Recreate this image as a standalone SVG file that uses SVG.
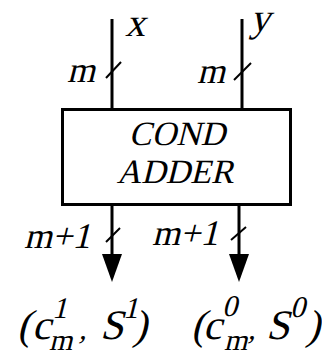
<svg xmlns="http://www.w3.org/2000/svg" width="322" height="350" viewBox="0 0 322 350">
<style>
  text { font-family: "Liberation Serif", "DejaVu Serif", serif; font-style: normal; fill: #000; }
  .wire { stroke: #000; stroke-width: 3; fill: none; }
  .tick { stroke: #000; stroke-width: 2; fill: none; }
  .box { stroke: #000; stroke-width: 3; fill: #fff; }
</style>
<defs>
  <marker id="ah" viewBox="0 0 28 20" refX="8" refY="10" markerWidth="28" markerHeight="20" markerUnits="userSpaceOnUse" orient="auto">
    <path d="M0,0 L28,10 L0,20 Z" fill="#000"/>
  </marker>
</defs>
<rect width="322" height="350" fill="#fff"/>
<g id="connectors">
  <line class="wire" x1="112" y1="19" x2="112" y2="109"/>
  <line class="wire" x1="242" y1="19" x2="242" y2="109"/>
  <line class="wire" x1="112" y1="204" x2="112" y2="262" marker-end="url(#ah)"/>
  <line class="wire" x1="239" y1="204" x2="239" y2="262" marker-end="url(#ah)"/>
  <line class="tick" x1="106" y1="78" x2="121" y2="62"/>
  <line class="tick" x1="234" y1="80" x2="251" y2="63"/>
  <line class="tick" x1="106" y1="242" x2="120" y2="228"/>
  <line class="tick" x1="231" y1="240" x2="246" y2="227"/>
</g>
<g id="cond-adder">
  <rect class="box" x="62.5" y="109.5" width="228" height="95"/>
  <text transform="translate(177,145) skewX(-14)" font-size="34" text-anchor="middle">COND</text>
  <text transform="translate(175,183) skewX(-14)" font-size="34" text-anchor="middle">ADDER</text>
</g>
<g id="label-x"><text transform="translate(125,36) skewX(-14)" font-size="40">x</text></g>
<g id="label-y"><text transform="translate(250,31) skewX(-14)" font-size="40">y</text></g>
<g id="label-m-left"><text transform="translate(67,82) skewX(-14)" font-size="36">m</text></g>
<g id="label-m-right"><text transform="translate(197,83) skewX(-14)" font-size="36">m</text></g>
<g id="label-m1-left"><text transform="translate(24,248) skewX(-14)" font-size="36">m+1</text></g>
<g id="label-m1-right"><text transform="translate(152,245) skewX(-14)" font-size="36">m+1</text></g>
<g id="out-left">
  <text transform="translate(17,339) skewX(-14)" font-size="42">(</text>
  <text transform="translate(32,339) skewX(-14)" font-size="42">c</text>
  <text transform="translate(52,318) skewX(-14)" font-size="30">1</text>
  <text transform="translate(49,350) skewX(-14)" font-size="30">m</text>
  <text transform="translate(79,339) skewX(-14)" font-size="30">,</text>
  <text transform="translate(100,339) skewX(-14)" font-size="42">S</text>
  <text transform="translate(123,318) skewX(-14)" font-size="30">1</text>
  <text transform="translate(133,339) skewX(-14)" font-size="42">)</text>
</g>
<g id="out-right">
  <text transform="translate(191,339) skewX(-14)" font-size="42">(</text>
  <text transform="translate(203,339) skewX(-14)" font-size="42">c</text>
  <text transform="translate(222,316) skewX(-14)" font-size="30">0</text>
  <text transform="translate(224,350) skewX(-14)" font-size="30">m</text>
  <text transform="translate(248,339) skewX(-14)" font-size="30">,</text>
  <text transform="translate(266,339) skewX(-14)" font-size="42">S</text>
  <text transform="translate(290,317) skewX(-14)" font-size="30">0</text>
  <text transform="translate(306,339) skewX(-14)" font-size="42">)</text>
</g>
</svg>
